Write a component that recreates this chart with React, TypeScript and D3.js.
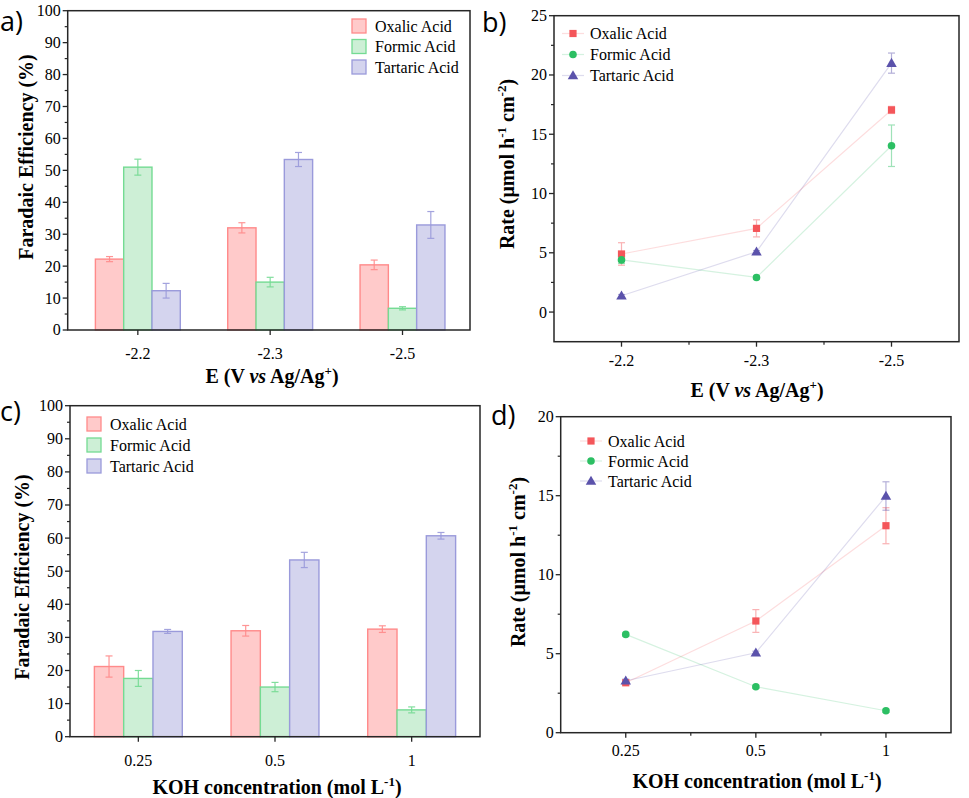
import React from "react";
import * as d3 from "d3";

// category labels
const potentials = ["-2.2", "-2.3", "-2.5"];
const concentrations = ["0.25", "0.5", "1"];
const acids = ["Oxalic Acid", "Formic Acid", "Tartaric Acid"];

// a) Faradaic efficiency vs potential (%)
const feOxalicE = [22.2, 32.0, 20.4];
const feOxalicEErr = [0.8, 1.6, 1.5];
const feFormicE = [51.0, 15.0, 6.8];
const feFormicEErr = [2.5, 1.5, 0.5];
const feTartaricE = [12.3, 53.4, 32.9];
const feTartaricEErr = [2.3, 2.2, 4.2];

// b) rate vs potential (umol h-1 cm-2)
const rateOxalicE = [4.9, 7.06, 17.05];
const rateOxalicEErr = [0.95, 0.72, 0.3];
const rateFormicE = [4.4, 2.92, 14.03];
const rateFormicEErr = [0.3, 0.15, 1.75];
const rateTartaricE = [1.38, 5.09, 21.0];
const rateTartaricEErr = [0.1, 0.1, 0.85];

// c) Faradaic efficiency vs KOH concentration (%)
const feOxalicC = [21.2, 32.0, 32.5];
const feOxalicCErr = [3.2, 1.6, 1.0];
const feFormicC = [17.6, 15.0, 8.1];
const feFormicCErr = [2.4, 1.4, 0.9];
const feTartaricC = [31.8, 53.4, 60.7];
const feTartaricCErr = [0.6, 2.3, 1.0];

// d) rate vs KOH concentration
const rateOxalicC = [3.16, 7.07, 13.1];
const rateOxalicCErr = [0.1, 0.72, 1.14];
const rateFormicC = [6.22, 2.91, 1.39];
const rateFormicCErr = [0.1, 0.1, 0.1];
const rateTartaricC = [3.29, 5.06, 14.98];
const rateTartaricCErr = [0.1, 0.1, 0.9];

const barFill = ["#FFCACA", "#CDEFD6", "#D4D4EE"];
const barStroke = ["#FF8A8A", "#74DB93", "#9A9ADB"];
const markColor = ["#F4565A", "#2CBF63", "#5B52AB"];

const serif = "Liberation Serif, Times New Roman, Tinos, DejaVu Serif, serif";
const sans = "Open Sans, Noto Sans, sans-serif";
const axisColor = "#262626";

type Frame = { left: number; right: number; top: number; bottom: number };

const Frame = ({ f }: { f: Frame }) => (
  <rect
    x={f.left}
    y={f.top}
    width={f.right - f.left}
    height={f.bottom - f.top}
    fill="none"
    stroke={axisColor}
    strokeWidth={1.5}
  />
);

const YAxis = ({
  f,
  y,
  major,
  minor,
}: {
  f: Frame;
  y: d3.ScaleLinear<number, number>;
  major: number[];
  minor: number[];
}) => (
  <g>
    {major.map((v) => (
      <g key={"M" + v}>
        <line x1={f.left - 5} x2={f.left} y1={y(v)} y2={y(v)} stroke={axisColor} strokeWidth={1.3} />
        <text x={f.left - 7} y={y(v)} dy="0.34em" textAnchor="end" fontSize={16}>
          {v}
        </text>
      </g>
    ))}
    {minor.map((v) => (
      <line key={"m" + v} x1={f.left - 3} x2={f.left} y1={y(v)} y2={y(v)} stroke={axisColor} strokeWidth={1.2} />
    ))}
  </g>
);

const XAxis = ({
  f,
  x,
  labels,
  minor,
  labelY,
}: {
  f: Frame;
  x: d3.ScaleLinear<number, number>;
  labels: string[];
  minor: number[];
  labelY: number;
}) => (
  <g>
    {labels.map((l, i) => (
      <g key={l}>
        <line x1={x(i)} x2={x(i)} y1={f.bottom} y2={f.bottom + 5} stroke={axisColor} strokeWidth={1.3} />
        <text x={x(i)} y={labelY} textAnchor="middle" fontSize={16}>
          {l}
        </text>
      </g>
    ))}
    {minor.map((v) => (
      <line key={v} x1={x(v)} x2={x(v)} y1={f.bottom} y2={f.bottom + 3} stroke={axisColor} strokeWidth={1.2} />
    ))}
  </g>
);

const ErrorBar = ({
  cx,
  y1,
  y2,
  color,
  cap,
  opacity,
}: {
  cx: number;
  y1: number;
  y2: number;
  color: string;
  cap: number;
  opacity: number;
}) => (
  <g stroke={color} strokeWidth={1.2} opacity={opacity}>
    <line x1={cx} x2={cx} y1={y1} y2={y2} />
    <line x1={cx - cap} x2={cx + cap} y1={y1} y2={y1} />
    <line x1={cx - cap} x2={cx + cap} y1={y2} y2={y2} />
  </g>
);

const BarPanel = ({
  f,
  xDomain,
  labels,
  values,
  errors,
  barWidth,
  legend,
  labelY,
}: {
  f: Frame;
  xDomain: [number, number];
  labels: string[];
  values: number[][];
  errors: number[][];
  barWidth: number;
  legend: { x: number; y: number; gap: number };
  labelY: number;
}) => {
  const x = d3.scaleLinear(xDomain, [f.left, f.right]);
  const y = d3.scaleLinear([0, 100], [f.bottom, f.top]);
  return (
    <g>
      {values.map((vals, s) =>
        vals.map((v, i) => {
          const bx = x(i) + (s - 1.5) * barWidth;
          return (
            <g key={s + "-" + i}>
              <rect
                x={bx}
                y={y(v)}
                width={barWidth}
                height={y(0) - y(v)}
                fill={barFill[s]}
                stroke={barStroke[s]}
                strokeWidth={1.4}
              />
              <ErrorBar
                cx={bx + barWidth / 2}
                y1={y(v + errors[s][i])}
                y2={y(v - errors[s][i])}
                color={barStroke[s]}
                cap={3.5}
                opacity={0.9}
              />
            </g>
          );
        })
      )}
      <Frame f={f} />
      <YAxis f={f} y={y} major={d3.range(0, 101, 10)} minor={d3.range(5, 100, 10)} />
      <XAxis f={f} x={x} labels={labels} minor={[]} labelY={labelY} />
      {acids.map((a, s) => (
        <g key={a}>
          <rect
            x={legend.x}
            y={legend.y + s * legend.gap - 7}
            width={14}
            height={14}
            fill={barFill[s]}
            stroke={barStroke[s]}
            strokeWidth={1.3}
          />
          <text x={legend.x + 23} y={legend.y + s * legend.gap} dy="0.35em" fontSize={16}>
            {a}
          </text>
        </g>
      ))}
    </g>
  );
};

const Marker = ({ s, cx, cy }: { s: number; cx: number; cy: number }) => {
  if (s === 0)
    return <rect x={cx - 3.6} y={cy - 3.6} width={7.2} height={7.2} fill={markColor[0]} />;
  if (s === 1) return <circle cx={cx} cy={cy} r={3.8} fill={markColor[1]} />;
  const sym = d3.symbol(d3.symbolTriangle, 48)();
  return <path d={sym as string} transform={`translate(${cx},${cy + 0.8})`} fill={markColor[2]} />;
};

const ScatterPanel = ({
  f,
  yDomain,
  major,
  minor,
  labels,
  values,
  errors,
  legend,
  labelY,
}: {
  f: Frame;
  yDomain: [number, number];
  major: number[];
  minor: number[];
  labels: string[];
  values: number[][];
  errors: number[][];
  legend: { x: number; y: number; gap: number };
  labelY: number;
}) => {
  const x = d3.scaleLinear([-0.5, 2.5], [f.left, f.right]);
  const y = d3.scaleLinear(yDomain, [f.bottom, f.top]);
  const line = d3
    .line<number>()
    .x((_, i) => x(i))
    .y((d) => y(d));
  return (
    <g>
      {values.map((vals, s) => (
        <path key={"l" + s} d={line(vals) as string} fill="none" stroke={markColor[s]} strokeOpacity={0.2} strokeWidth={1.2} />
      ))}
      {values.map((vals, s) =>
        vals.map((v, i) => (
          <ErrorBar
            key={"e" + s + i}
            cx={x(i)}
            y1={y(v + errors[s][i])}
            y2={y(v - errors[s][i])}
            color={markColor[s]}
            cap={3.5}
            opacity={0.45}
          />
        ))
      )}
      {values.map((vals, s) =>
        vals.map((v, i) => <Marker key={"m" + s + i} s={s} cx={x(i)} cy={y(v)} />)
      )}
      <Frame f={f} />
      <YAxis f={f} y={y} major={major} minor={minor} />
      <XAxis f={f} x={x} labels={labels} minor={[0.5, 1.5]} labelY={labelY} />
      {acids.map((a, s) => (
        <g key={a}>
          <line
            x1={legend.x - 11}
            x2={legend.x + 11}
            y1={legend.y + s * legend.gap}
            y2={legend.y + s * legend.gap}
            stroke={markColor[s]}
            strokeOpacity={0.2}
            strokeWidth={1.2}
          />
          <Marker s={s} cx={legend.x} cy={legend.y + s * legend.gap} />
          <text x={legend.x + 17} y={legend.y + s * legend.gap} dy="0.35em" fontSize={16}>
            {a}
          </text>
        </g>
      ))}
    </g>
  );
};

const YTitle = ({ cx, cy, children }: { cx: number; cy: number; children: React.ReactNode }) => (
  <text
    transform={`translate(${cx},${cy}) rotate(-90)`}
    dy="0.35em"
    textAnchor="middle"
    fontSize={20}
    fontWeight="bold"
  >
    {children}
  </text>
);

const XTitle = ({ cx, y, children }: { cx: number; y: number; children: React.ReactNode }) => (
  <text x={cx} y={y} textAnchor="middle" fontSize={20} fontWeight="bold">
    {children}
  </text>
);

const PotentialTitle = () => (
  <>
    E (V <tspan fontStyle="italic">vs</tspan> Ag/Ag
    <tspan fontSize={13} dy={-8}>+</tspan>
    <tspan dy={8}>)</tspan>
  </>
);

const KohTitle = () => (
  <>
    KOH concentration (mol L
    <tspan fontSize={13} dy={-8}>-1</tspan>
    <tspan dy={8}>)</tspan>
  </>
);

const RateTitle = () => (
  <>
    Rate (μmol h
    <tspan fontSize={13} dy={-8}>-1</tspan>
    <tspan dy={8}> cm</tspan>
    <tspan fontSize={13} dy={-8}>-2</tspan>
    <tspan dy={8}>)</tspan>
  </>
);

const PanelLabel = ({ x, y, t }: { x: number; y: number; t: string }) => (
  <text x={x} y={y} fontSize={27} style={{ fontFamily: sans }}>
    {t}
  </text>
);

export default function App() {
  const fa = { left: 67.7, right: 470, top: 10.7, bottom: 330 };
  const fb = { left: 554, right: 959, top: 15.7, bottom: 341.7 };
  const fc = { left: 70, right: 480, top: 405.7, bottom: 736.7 };
  const fd = { left: 560.7, right: 951, top: 416.7, bottom: 732.7 };
  return (
    <svg
      width={969}
      height={798}
      viewBox="0 0 969 798"
      style={{ position: "absolute", left: 0, top: 0, background: "#fff", fontFamily: serif }}
    >
      <rect width={969} height={798} fill="#fff" />

      <BarPanel
        f={fa}
        xDomain={[-0.53, 2.51]}
        labels={potentials}
        values={[feOxalicE, feFormicE, feTartaricE]}
        errors={[feOxalicEErr, feFormicEErr, feTartaricEErr]}
        barWidth={28.3}
        legend={{ x: 352, y: 26, gap: 20.5 }}
        labelY={359}
      />
      <YTitle cx={26} cy={157}>Faradaic Efficiency (%)</YTitle>
      <XTitle cx={272} y={383}><PotentialTitle /></XTitle>
      <PanelLabel x={0} y={31} t="a)" />

      <ScatterPanel
        f={fb}
        yDomain={[-2.5, 25]}
        major={d3.range(0, 26, 5)}
        minor={d3.range(2.5, 25, 5)}
        labels={potentials}
        values={[rateOxalicE, rateFormicE, rateTartaricE]}
        errors={[rateOxalicEErr, rateFormicEErr, rateTartaricEErr]}
        legend={{ x: 573, y: 33.5, gap: 21 }}
        labelY={366}
      />
      <YTitle cx={507} cy={164}><RateTitle /></YTitle>
      <XTitle cx={757} y={397}><PotentialTitle /></XTitle>
      <PanelLabel x={482} y={32} t="b)" />

      <BarPanel
        f={fc}
        xDomain={[-0.5, 2.5]}
        labels={concentrations}
        values={[feOxalicC, feFormicC, feTartaricC]}
        errors={[feOxalicCErr, feFormicCErr, feTartaricCErr]}
        barWidth={29.3}
        legend={{ x: 87, y: 424, gap: 21 }}
        labelY={766}
      />
      <YTitle cx={22} cy={577}>Faradaic Efficiency (%)</YTitle>
      <XTitle cx={277} y={794}><KohTitle /></XTitle>
      <PanelLabel x={0} y={421} t="c)" />

      <ScatterPanel
        f={fd}
        yDomain={[0, 20]}
        major={d3.range(0, 21, 5)}
        minor={d3.range(2.5, 20, 5)}
        labels={concentrations}
        values={[rateOxalicC, rateFormicC, rateTartaricC]}
        errors={[rateOxalicCErr, rateFormicCErr, rateTartaricCErr]}
        legend={{ x: 591, y: 441, gap: 20 }}
        labelY={756}
      />
      <YTitle cx={518} cy={562}><RateTitle /></YTitle>
      <XTitle cx={757} y={788}><KohTitle /></XTitle>
      <PanelLabel x={491} y={425} t="d)" />
    </svg>
  );
}
